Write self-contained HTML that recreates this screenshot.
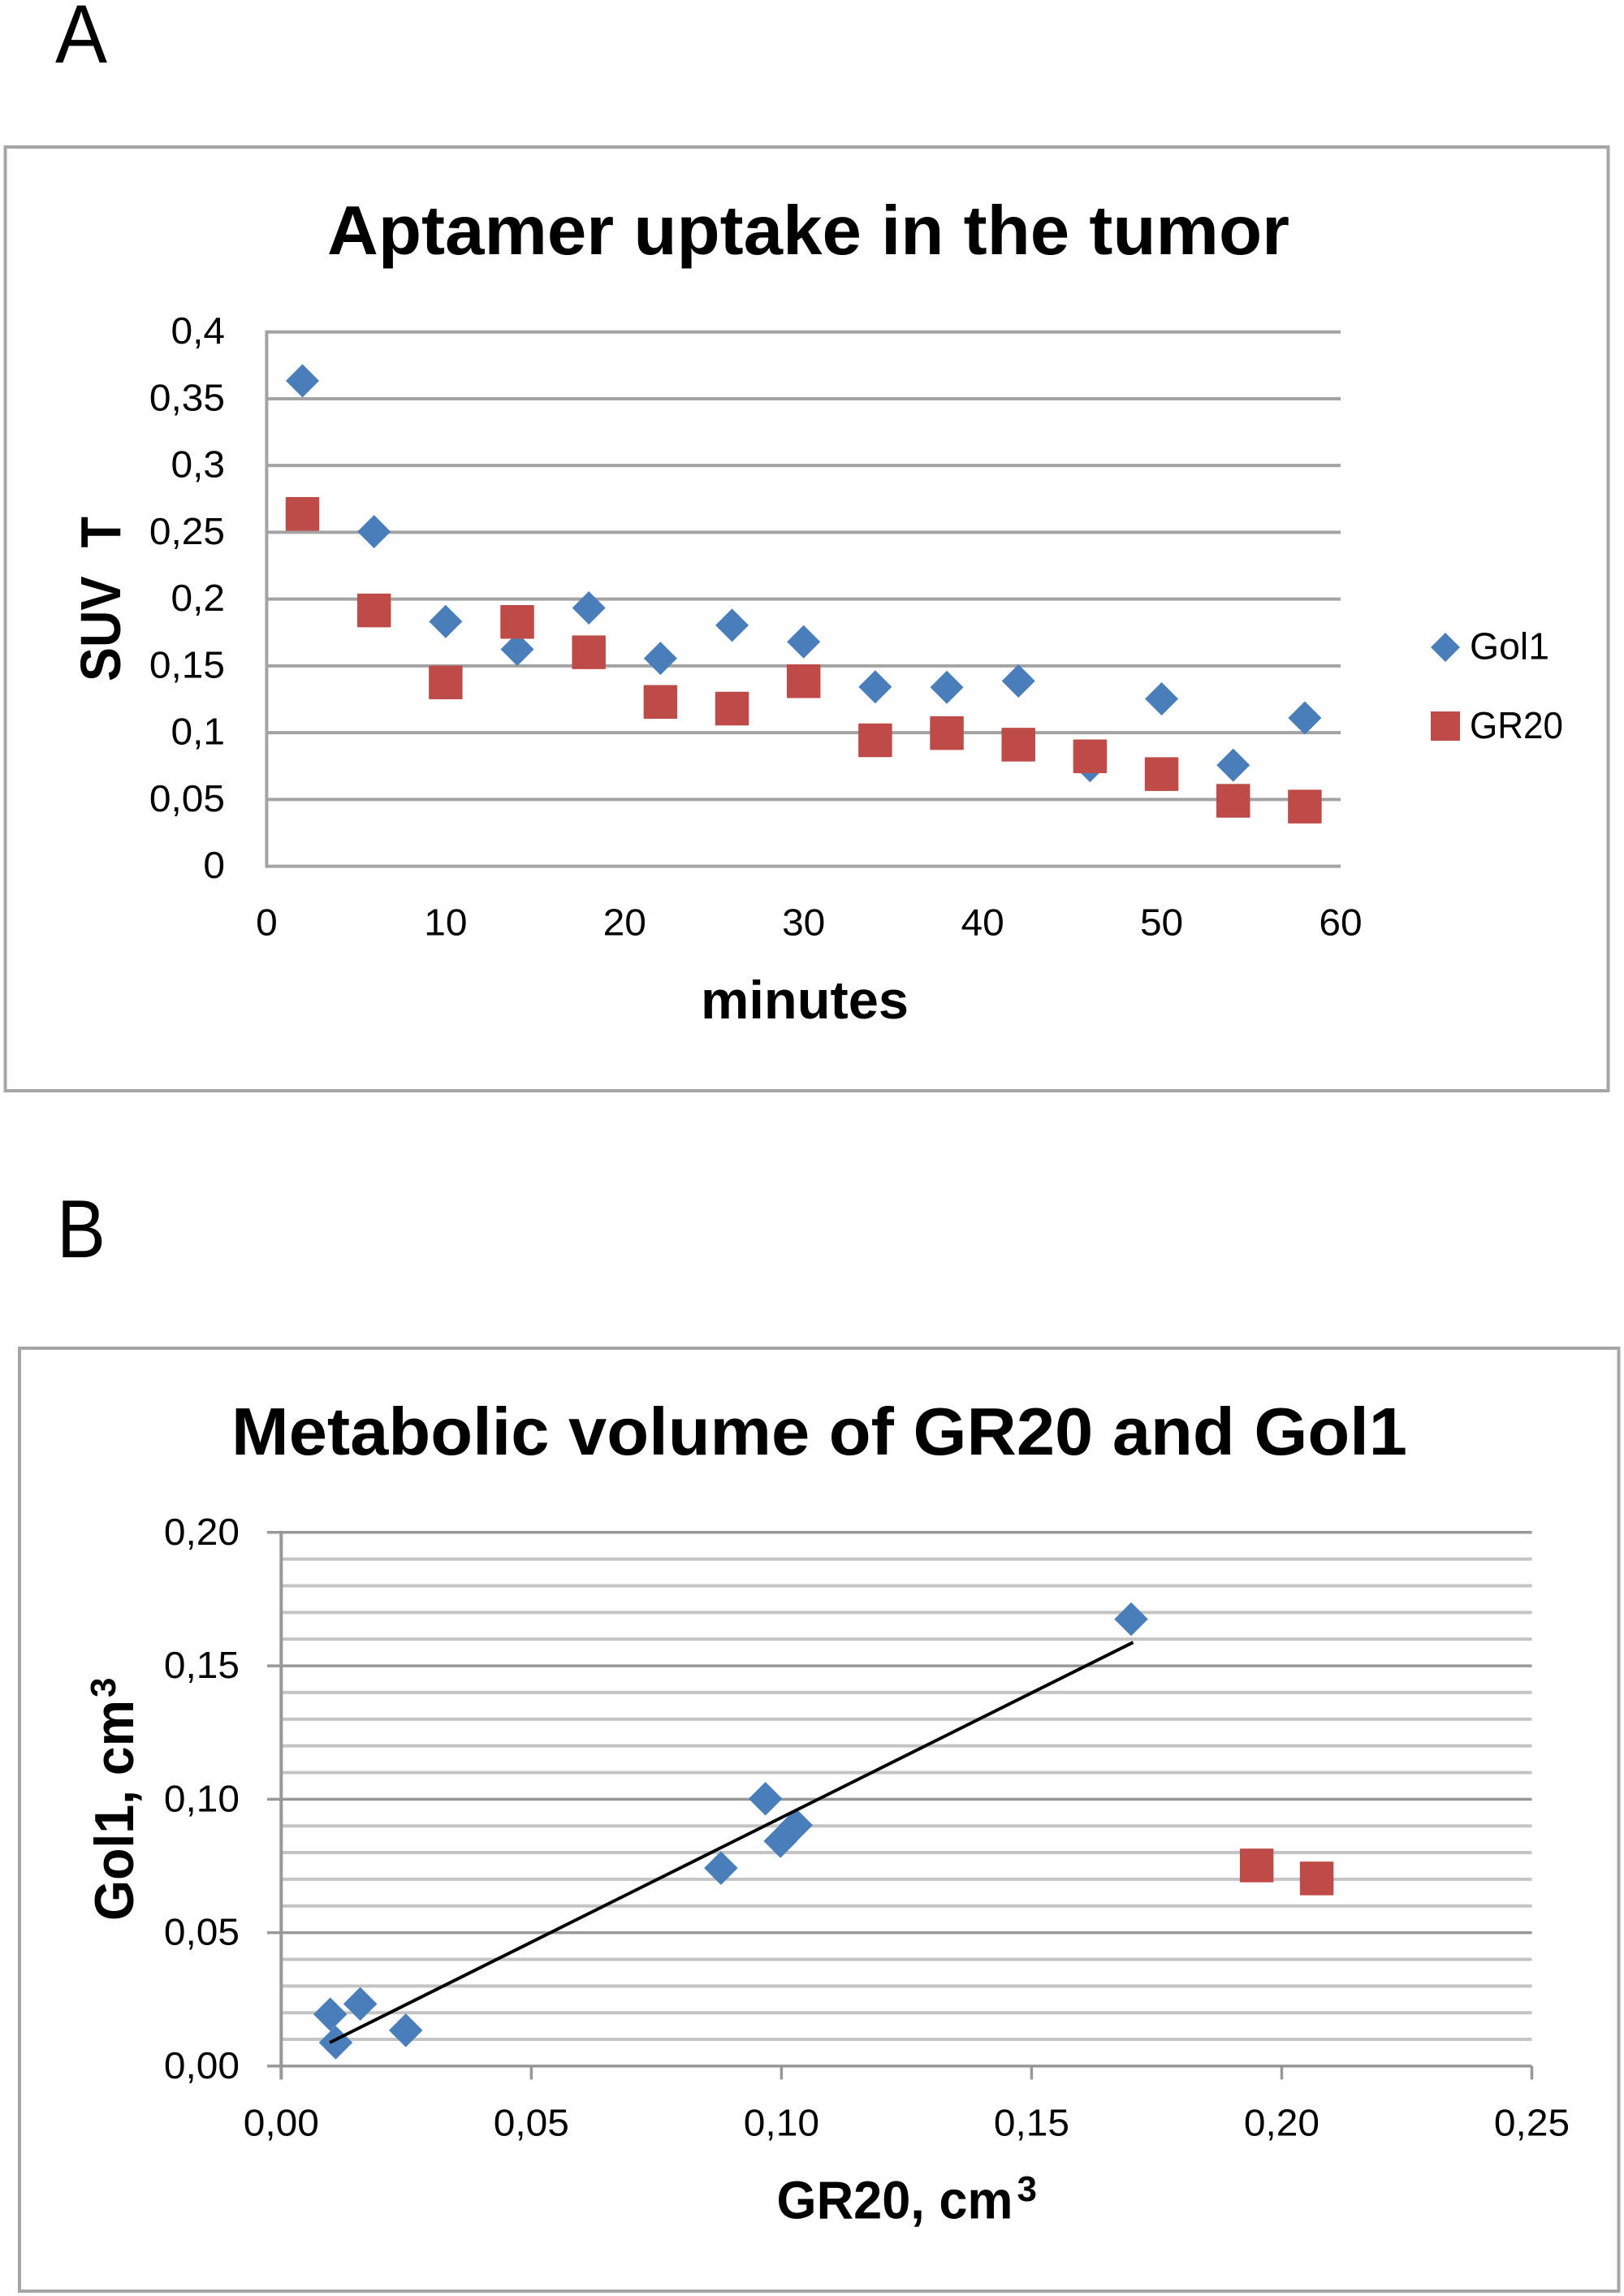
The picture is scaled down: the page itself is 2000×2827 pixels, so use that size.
<!DOCTYPE html>
<html lang="en">
<head>
<meta charset="utf-8">
<title>Aptamer uptake and metabolic volume charts</title>
<style>
html,body{margin:0;padding:0;background:#fff;}
svg{display:block;}
text{font-family:"Liberation Sans",sans-serif;fill:#000;white-space:pre;}
.bold{font-weight:bold;}
</style>
</head>
<body>
<svg id="fig" xmlns="http://www.w3.org/2000/svg" width="2000" height="2827" viewBox="0 0 2000 2827">
  <rect x="0" y="0" width="2000" height="2827" fill="#fff"/>

  <text x="68" y="77" font-size="102" textLength="64" lengthAdjust="spacingAndGlyphs">A</text>
  <rect x="6.5" y="181" width="1974" height="1162" fill="#fff" stroke="#a6a6a6" stroke-width="4"/>
  <text class="bold" x="403" y="313" font-size="85" textLength="1185" lengthAdjust="spacingAndGlyphs">Aptamer uptake in the tumor</text>
  <g id="chartA"></g>
  <text class="bold" transform="rotate(-90 148 839)" x="148" y="839" font-size="70" textLength="203" lengthAdjust="spacingAndGlyphs">SUV  T</text>
  <text class="bold" x="863" y="1254" font-size="66" textLength="256" lengthAdjust="spacingAndGlyphs">minutes</text>
  <polygon points="1780,779 1798,797 1780,815 1762,797" fill="#4a7ebb"/>
  <text x="1810" y="811.5" font-size="46" textLength="98" lengthAdjust="spacingAndGlyphs">Gol1</text>
  <rect x="1762" y="876" width="36" height="36" fill="#be4b48"/>
  <text x="1810" y="909" font-size="46" textLength="115" lengthAdjust="spacingAndGlyphs">GR20</text>

  <text x="70" y="1548" font-size="101" textLength="60" lengthAdjust="spacingAndGlyphs">B</text>
  <rect x="24" y="1660" width="1969.5" height="1161" fill="#fff" stroke="#a6a6a6" stroke-width="4"/>
  <text class="bold" x="285" y="1791" font-size="83" textLength="1448" lengthAdjust="spacingAndGlyphs">Metabolic volume of GR20 and Gol1</text>
  <g id="chartB"></g>
  <text class="bold" transform="translate(164 2365) rotate(-90)" x="0" y="0" font-size="68"><tspan textLength="272" lengthAdjust="spacingAndGlyphs">Gol1, cm</tspan><tspan x="275" y="-22" font-size="44">3</tspan></text>
  <text class="bold" x="956.5" y="2731.5" font-size="66"><tspan textLength="291" lengthAdjust="spacingAndGlyphs">GR20, cm</tspan><tspan x="1252.5" y="2710" font-size="44">3</tspan></text>
</svg>

<script>
/* Chart A data */
const minutesA = [2, 6, 10, 14, 18, 22, 26, 30, 34, 38, 42, 46, 50, 54, 58];
const gol1UptakeA = [0.3634, 0.2505, 0.1832, 0.1624, 0.1934, 0.1556, 0.1804, 0.168, 0.1343, 0.134, 0.1387, 0.0753, 0.1253, 0.0757, 0.111];
const gr20UptakeA = [0.2638, 0.1915, 0.1376, 0.1829, 0.1602, 0.123, 0.118, 0.1385, 0.0943, 0.0997, 0.091, 0.0823, 0.069, 0.049, 0.0447];
const yTickValuesA = [0, 0.05, 0.1, 0.15, 0.2, 0.25, 0.3, 0.35, 0.4];
const yTickLabelsA = ['0', '0,05', '0,1', '0,15', '0,2', '0,25', '0,3', '0,35', '0,4'];
const xTickValuesA = [0, 10, 20, 30, 40, 50, 60];
const xTickLabelsA = ['0', '10', '20', '30', '40', '50', '60'];

/* Chart B data */
const gol1VolumeX = [0.0098, 0.0109, 0.0158, 0.0249, 0.0879, 0.0968, 0.0998, 0.1029, 0.1699];
const gol1VolumeY = [0.0194, 0.0088, 0.0233, 0.0134, 0.0742, 0.1002, 0.0843, 0.0903, 0.1675];
const gr20VolumeX = [0.195, 0.207];
const gr20VolumeY = [0.0752, 0.0703];
const trendX = [0.0097, 0.1703];
const trendY = [0.0088, 0.1588];
const yTickValuesB = [0, 0.05, 0.1, 0.15, 0.2];
const yTickLabelsB = ['0,00', '0,05', '0,10', '0,15', '0,20'];
const yMinorValuesB = [0.01, 0.02, 0.03, 0.04, 0.06, 0.07, 0.08, 0.09, 0.11, 0.12, 0.13, 0.14, 0.16, 0.17, 0.18, 0.19];
const xTickValuesB = [0, 0.05, 0.1, 0.15, 0.2, 0.25];
const xTickLabelsB = ['0,00', '0,05', '0,10', '0,15', '0,20', '0,25'];

const NS = 'http://www.w3.org/2000/svg';
const groupA = document.getElementById('chartA');
const groupB = document.getElementById('chartB');

/* Axis functions */
function xA(v) { return 328.4 + v * (1651 - 328.4) / 60; }
function yA(v) { return 1066.6 - v * (1066.6 - 408.7) / 0.4; }
function xB(v) { return 346.3 + v * (1886.5 - 346.3) / 0.25; }
function yB(v) { return 2543.9 - v * (2543.9 - 1886.8) / 0.2; }

function drawLine(parent, x1, y1, x2, y2, color, width, name) {
  const el = document.createElementNS(NS, 'line');
  el.setAttribute('x1', x1);
  el.setAttribute('y1', y1);
  el.setAttribute('x2', x2);
  el.setAttribute('y2', y2);
  el.setAttribute('stroke', color);
  el.setAttribute('stroke-width', width);
  
  
  parent.appendChild(el);
}

function drawLabel(parent, x, y, str, anchor, stretch, name) {
  const el = document.createElementNS(NS, 'text');
  el.setAttribute('x', x);
  el.setAttribute('y', y);
  el.setAttribute('font-size', 46);
  el.setAttribute('text-anchor', anchor);
  el.textContent = str;
  
  
  parent.appendChild(el);
  el.setAttribute('lengthAdjust', 'spacingAndGlyphs');
  el.setAttribute('textLength', el.getComputedTextLength() * stretch);
}

function drawDiamond(parent, cx, cy, size, name) {
  const r = size / 2;
  const el = document.createElementNS(NS, 'polygon');
  el.setAttribute('points', cx + ',' + (cy - r) + ' ' + (cx + r) + ',' + cy + ' ' + cx + ',' + (cy + r) + ' ' + (cx - r) + ',' + cy);
  el.setAttribute('fill', '#4a7ebb');
  
  
  parent.appendChild(el);
}

function drawSquare(parent, cx, cy, size, name) {
  const el = document.createElementNS(NS, 'rect');
  el.setAttribute('x', cx - size / 2);
  el.setAttribute('y', cy - size / 2);
  el.setAttribute('width', size);
  el.setAttribute('height', size);
  el.setAttribute('rx', 1);
  el.setAttribute('fill', '#be4b48');
  
  
  parent.appendChild(el);
}

/* Chart A */
yTickValuesA.forEach(function (v, i) {
  drawLine(groupA, xA(0), yA(v), xA(60), yA(v), '#a3a3a3', 4, 'chart-a-gridline');
  drawLabel(groupA, 277, yA(v) + 14.5, yTickLabelsA[i], 'end', 1.04, 'chart-a-y-tick-label');
});
drawLine(groupA, xA(0), yA(0.4) - 2, xA(0), yA(0) + 2, '#a3a3a3', 4, 'chart-a-y-axis-line');
xTickValuesA.forEach(function (v, i) {
  drawLabel(groupA, xA(v), 1151.5, xTickLabelsA[i], 'middle', 1.04, 'chart-a-x-tick-label');
});
minutesA.forEach(function (m, i) {
  drawDiamond(groupA, xA(m), yA(gol1UptakeA[i]), 41, 'gol1-point');
});
minutesA.forEach(function (m, i) {
  drawSquare(groupA, xA(m), yA(gr20UptakeA[i]), 41.5, 'gr20-point');
});

/* Chart B */
yMinorValuesB.forEach(function (v) {
  drawLine(groupB, xB(0), yB(v), xB(0.25), yB(v), '#c4c4c4', 4, 'chart-b-minor-gridline');
});
yTickValuesB.forEach(function (v, i) {
  drawLine(groupB, 329, yB(v), xB(0.25), yB(v), '#989898', 3.5, 'chart-b-major-gridline');
  drawLabel(groupB, 295, yB(v) + 15, yTickLabelsB[i], 'end', 1.04, 'chart-b-y-tick-label');
});
drawLine(groupB, xB(0), yB(0.2) - 2, xB(0), 2560.5, '#989898', 4, 'chart-b-y-axis-line');
xTickValuesB.forEach(function (v, i) {
  drawLine(groupB, xB(v), yB(0), xB(v), 2560.5, '#989898', 3.5, 'chart-b-x-tick');
  drawLabel(groupB, xB(v), 2629.5, xTickLabelsB[i], 'middle', 1.04, 'chart-b-x-tick-label');
});
gol1VolumeX.forEach(function (v, i) {
  drawDiamond(groupB, xB(v), yB(gol1VolumeY[i]), 41.5, 'gol1-volume-point');
});
gr20VolumeX.forEach(function (v, i) {
  drawSquare(groupB, xB(v), yB(gr20VolumeY[i]), 41.5, 'gr20-volume-point');
});
drawLine(groupB, xB(trendX[0]), yB(trendY[0]), xB(trendX[1]), yB(trendY[1]), '#000', 4, 'gol1-trendline');
</script>
</body>
</html>
